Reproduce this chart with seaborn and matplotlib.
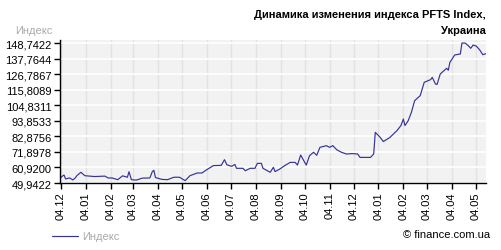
import matplotlib
matplotlib.use("Agg")
import matplotlib.pyplot as plt
import matplotlib.dates as mdates
import seaborn as sns
import pandas as pd

# ---- data ----
dates = [
    "2002-12-03", "2002-12-08", "2002-12-10", "2002-12-15", "2002-12-19", "2002-12-22",
    "2002-12-24", "2002-12-29", "2003-01-03", "2003-01-15", "2003-01-28", "2003-02-01",
    "2003-02-06", "2003-02-13", "2003-02-19", "2003-02-25", "2003-02-27", "2003-03-02",
    "2003-03-08", "2003-03-16", "2003-03-25", "2003-03-28", "2003-03-30", "2003-04-01",
    "2003-04-09", "2003-04-16", "2003-04-24", "2003-05-01", "2003-05-08", "2003-05-14",
    "2003-05-23", "2003-05-29", "2003-06-02", "2003-06-12", "2003-06-22", "2003-06-26",
    "2003-06-29", "2003-07-05", "2003-07-09", "2003-07-11", "2003-07-19", "2003-07-22",
    "2003-07-28", "2003-08-03", "2003-08-06", "2003-08-11", "2003-08-13", "2003-08-22",
    "2003-08-26", "2003-08-28", "2003-09-03", "2003-09-09", "2003-09-16", "2003-09-22",
    "2003-09-25", "2003-09-29", "2003-10-04", "2003-10-06", "2003-10-10", "2003-10-15",
    "2003-10-19", "2003-10-23", "2003-10-31", "2003-11-04", "2003-11-08", "2003-11-13",
    "2003-11-19", "2003-11-25", "2003-12-02", "2003-12-09", "2003-12-12", "2003-12-25",
    "2003-12-29", "2003-12-31", "2004-01-06", "2004-01-10", "2004-01-18", "2004-01-27",
    "2004-02-01", "2004-02-04", "2004-02-06", "2004-02-10", "2004-02-14", "2004-02-18",
    "2004-02-25", "2004-03-01", "2004-03-09", "2004-03-11", "2004-03-15", "2004-03-17",
    "2004-03-21", "2004-03-29", "2004-03-31", "2004-04-02", "2004-04-08", "2004-04-15",
    "2004-04-17", "2004-04-21", "2004-04-25", "2004-04-28", "2004-05-01", "2004-05-05",
    "2004-05-09", "2004-05-13", "2004-05-17",
]
index_values = [
    53.5, 55.6, 52.8, 53.5, 52.1, 53.5,
    55.1, 57.5, 55.1, 54.5, 54.8, 53.5,
    53.5, 52.3, 55.0, 54.0, 57.9, 52.3,
    52.0, 53.4, 53.5, 57.9, 58.9, 53.8,
    52.5, 52.3, 54.0, 54.0, 51.6, 55.1,
    57.0, 57.0, 58.6, 62.2, 62.4, 66.4,
    62.8, 61.7, 63.0, 60.3, 60.3, 58.6,
    60.3, 60.3, 63.8, 63.8, 60.3, 57.5,
    61.0, 58.0, 59.8, 62.2, 64.5, 64.5,
    62.6, 69.7, 64.5, 62.6, 69.2, 71.6,
    69.5, 75.1, 76.3, 75.1, 76.3, 73.4,
    71.6, 70.4, 70.7, 70.4, 68.0, 68.0,
    70.4, 85.7, 82.2, 79.2, 82.0, 86.9,
    90.5, 95.1, 90.5, 93.9, 99.8, 108.0,
    111.6, 121.0, 122.9, 124.5, 119.8, 119.5,
    126.9, 130.9, 129.5, 135.1, 140.3, 141.0,
    148.7, 148.7, 146.8, 145.0, 147.3, 146.5,
    144.0, 140.5, 141.2,
]
y_ticks = [49.9422, 60.9200, 71.8978, 82.8756, 93.8533, 104.8311,
           115.8089, 126.7867, 137.7644, 148.7422]
y_tick_labels = ["49,9422", "60,9200", "71,8978", "82,8756", "93,8533", "104,8311",
                 "115,8089", "126,7867", "137,7644", "148,7422"]
title_line1 = "Динамика изменения индекса PFTS Index,"
title_line2 = "Украина"
series_name = "Индекс"
source_text = "© finance.com.ua"

# ---- style ----
sns.set_theme(style="white")
plt.rcParams["font.family"] = ["Liberation Sans", "DejaVu Sans"]

W, H = 501, 251
fig = plt.figure(figsize=(W / 100, H / 100), dpi=100)
ax = fig.add_axes([60 / W, 67 / H, 426 / W, 143 / H])
ax.set_facecolor("#f2f2f2")

df = pd.DataFrame({"date": pd.to_datetime(dates), "value": index_values})
sns.lineplot(data=df, x="date", y="value", ax=ax, color="#333399",
             linewidth=0.85, label=series_name)

ax.set_ylim(49.9422, 150.86)
ax.set_xlim(df["date"].min(), df["date"].max())
ax.set_yticks(y_ticks)
ax.set_yticklabels(y_tick_labels)
ax.xaxis.set_major_locator(mdates.MonthLocator(bymonthday=4))
ax.xaxis.set_major_formatter(mdates.DateFormatter("%d.%m"))
for lbl in ax.get_xticklabels():
    lbl.set_rotation(90)

ax.set_xlabel("")
ax.set_ylabel("")
ax.yaxis.grid(True, color="white", linewidth=1.2)
ax.xaxis.grid(True, color="#e2e2e2", linewidth=1.0)
ax.set_axisbelow(True)
for s in ["top", "right"]:
    ax.spines[s].set_visible(False)
for s in ["left", "bottom"]:
    ax.spines[s].set_color("black")
    ax.spines[s].set_linewidth(1.0)
ax.tick_params(axis="both", direction="out", length=4, width=1, color="black",
               labelsize=8, labelcolor="black", left=True, bottom=True, pad=2)

# legend below the plot
leg = ax.legend(loc="center left", bbox_to_anchor=(52 / W, 1 - 237.5 / H),
                bbox_transform=fig.transFigure, frameon=False, fontsize=8,
                handlelength=2.3, handletextpad=0.4, borderpad=0, borderaxespad=0)
for t in leg.get_texts():
    t.set_color("#aaaaaa")

# texts
fig.text(486 / W, 1 - 15 / H, title_line1, ha="right", va="center",
         fontsize=8, fontweight="bold", color="black")
fig.text(486 / W, 1 - 31 / H, title_line2, ha="right", va="center",
         fontsize=8, fontweight="bold", color="black")
fig.text(15 / W, 1 - 30.5 / H, series_name, ha="left", va="center",
         fontsize=8, color="#aaaaaa")
fig.text(490 / W, 1 - 235 / H, source_text, ha="right", va="center",
         fontsize=8, color="black")

fig.savefig("out.png", dpi=100)
